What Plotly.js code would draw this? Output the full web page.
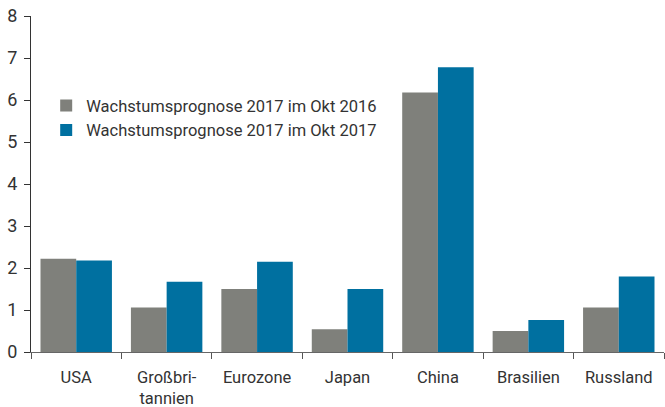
<!DOCTYPE html>
<html>
<head>
<meta charset="utf-8">
<script src="https://cdn.plot.ly/plotly-3.0.1.min.js"></script>
<style>html,body{margin:0;padding:0;background:#fff;}#chart{width:665px;height:407px;}</style>
</head>
<body>
<div id="chart"></div>
<script>
const categories = ["USA", "Großbri-<br>tannien", "Eurozone", "Japan", "China", "Brasilien", "Russland"];
const seriesNames = ["Wachstumsprognose 2017 im Okt 2016", "Wachstumsprognose 2017 im Okt 2017"];
const okt2016 = [2.22, 1.06, 1.50, 0.54, 6.18, 0.50, 1.06];
const okt2017 = [2.18, 1.67, 2.15, 1.50, 6.78, 0.76, 1.80];
const yTicks = [0, 1, 2, 3, 4, 5, 6, 7, 8];

const fam = "Roboto, 'Open Sans', sans-serif";

const traces = [
  {type: "bar", x: categories, y: okt2016, name: seriesNames[0],
   marker: {color: "#7f807b", line: {width: 0}}},
  {type: "bar", x: categories, y: okt2017, name: seriesNames[1],
   marker: {color: "#0070a0", line: {width: 0}}}
];

const layout = {
  width: 665, height: 407,
  margin: {l: 31, r: 1, t: 16, b: 55, pad: 0},
  paper_bgcolor: "#ffffff", plot_bgcolor: "#ffffff",
  font: {family: fam, size: 16, color: "#333333"},
  barmode: "group", bargap: 0.21, bargroupgap: 0,
  showlegend: true,
  legend: {x: 0.024, y: 0.785, xanchor: "left", yanchor: "top",
           bgcolor: "rgba(0,0,0,0)", font: {family: fam, size: 16.5, color: "#333333"},
           tracegroupgap: 0, itemclick: false},
  xaxis: {
    type: "category", showgrid: false, zeroline: false,
    showline: true, linecolor: "#666666", linewidth: 1,
    ticks: "outside", tickson: "boundaries", ticklen: 6, tickcolor: "#555555",
    ticklabelstandoff: 10,
    tickfont: {family: fam, size: 16.5, color: "#333333"}
  },
  yaxis: {
    range: [0, 8], tickvals: yTicks, ticktext: yTicks.map(String),
    showgrid: false, zeroline: false,
    showline: true, linecolor: "#333333", linewidth: 1,
    ticks: "outside", ticklen: 6, tickcolor: "#333333",
    ticklabelstandoff: 3,
    tickfont: {family: fam, size: 18, color: "#333333"}
  }
};

Plotly.newPlot("chart", traces, layout, {displayModeBar: false, staticPlot: true});
</script>
</body>
</html>
